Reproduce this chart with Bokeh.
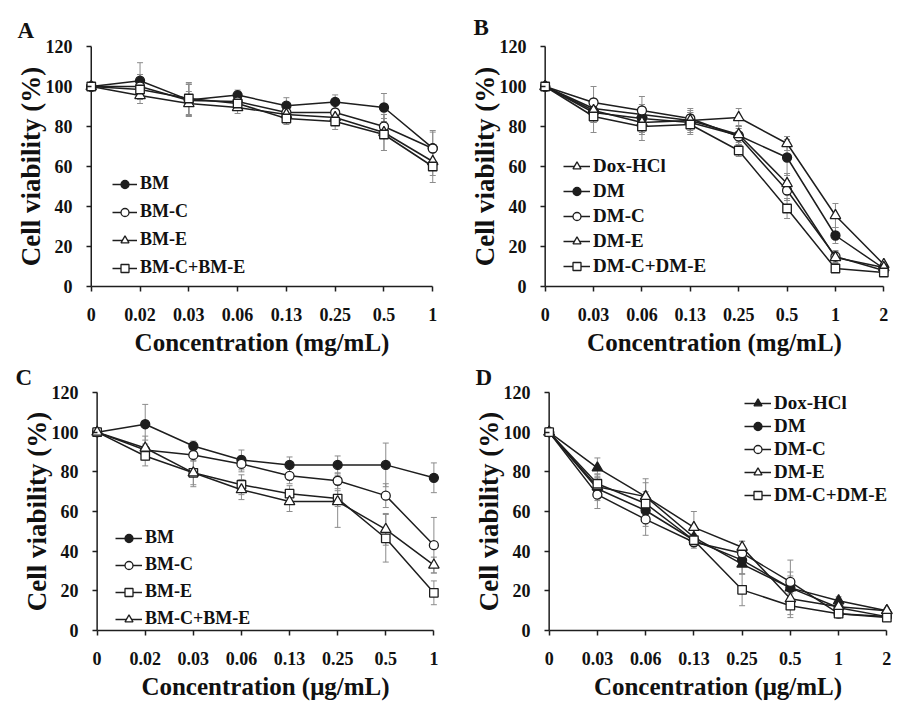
from bokeh.plotting import figure
from bokeh.models import (Range1d, FixedTicker, Legend, LegendItem, Whisker,
                          TeeHead, ColumnDataSource, Span)
from bokeh.layouts import column, row
from bokeh.embed import file_html
from bokeh.resources import INLINE

FONT = "Liberation Serif"
INK = "#1e1e1e"
ERR = "#8c8c8c"

# ---------------- data ----------------
conc_A = ["0", "0.02", "0.03", "0.06", "0.13", "0.25", "0.5", "1"]
A_BM = [100, 102.9, 93.3, 95.7, 90.4, 92.3, 89.5, 69.2]
A_BM_err = [0, 9, 8, 2.5, 4, 3.5, 7, 8]
A_BMC = [100, 100, 93, 92.5, 87, 87, 80, 69]
A_BMC_err = [0, 6, 8, 3, 3, 4, 6, 9]
A_BME = [100, 95.5, 91.5, 89.5, 86, 84.5, 77, 62.5]
A_BME_err = [0, 4, 6, 3, 3, 4, 9, 7]
A_BMCE = [100, 98.5, 94, 91.5, 84, 82.5, 76, 60]
A_BMCE_err = [0, 5, 8, 3, 3, 4, 8, 8]

conc_B = ["0", "0.03", "0.06", "0.13", "0.25", "0.5", "1", "2"]
B_Dox = [100, 89, 86, 83, 84.5, 71.5, 35.5, 11]
B_Dox_err = [0, 4, 5, 5, 4.5, 3.5, 6, 1]
B_DM = [100, 87, 84, 82, 75.5, 64.5, 25.5, 9]
B_DM_err = [0, 5, 7, 5, 5, 9, 4, 1]
B_DMC = [100, 92, 88, 84, 75, 48, 15, 8]
B_DMC_err = [0, 8, 7, 5, 4, 5, 3, 1]
B_DME = [100, 88, 82, 83, 76, 51.5, 14.5, 9.5]
B_DME_err = [0, 6, 6, 4, 4, 5, 3, 1]
B_DMCE = [100, 85, 80, 81, 68, 39, 9, 7]
B_DMCE_err = [0, 8, 7, 5, 3, 5, 2, 1]

conc_C = ["0", "0.02", "0.03", "0.06", "0.13", "0.25", "0.5", "1"]
C_BM = [100, 104, 93, 86, 83.5, 83.5, 83.5, 77]
C_BM_err = [0, 10, 2.5, 5, 4, 4.5, 11, 7.5]
C_BMC = [100, 91, 88.5, 84, 78, 75.5, 68, 43]
C_BMC_err = [0, 5, 3, 4, 4, 4, 6, 14]
C_BME = [100, 88, 79.5, 73.5, 69, 66.5, 46.5, 19]
C_BME_err = [0, 5, 6, 5, 4, 4, 12, 6]
C_BMCE = [100, 92, 79.5, 71, 65, 65, 51, 33]
C_BMCE_err = [0, 6, 7, 5, 5, 13, 8, 4]

conc_D = ["0", "0.03", "0.06", "0.13", "0.25", "0.5", "1", "2"]
D_Dox = [100, 82, 67.5, 47, 33.5, 21.5, 15, 10]
D_Dox_err = [0, 5, 7, 4, 5, 6, 2, 1]
D_DM = [100, 71.5, 60.5, 45.5, 35.5, 21.5, 11.5, 7]
D_DM_err = [0, 6, 8, 3, 7, 8, 2, 1]
D_DMC = [100, 68.5, 56, 44.5, 39, 24.5, 8.5, 7]
D_DMC_err = [0, 7, 8, 3, 6, 11, 2, 1]
D_DME = [100, 72.5, 67.5, 52, 42, 16, 12, 10]
D_DME_err = [0, 6, 9, 8, 3, 8, 2, 1]
D_DMCE = [100, 74, 64, 45.5, 20.5, 12.5, 8.5, 6.5]
D_DMCE_err = [0, 5, 6, 3, 8, 6, 2, 1]

y_ticks = [0, 20, 40, 60, 80, 100, 120]

MSIZE = {"circle": 9, "triangle": 10.5, "square": 8.5}
PAD = 0.2


def panel(cats, series, letter, xlabel, width, bl, br, bt, fh, bb,
          title_offset, title_standoff, legend_xy, legend_spacing,
          legend_font, glyph_w):
    n = len(cats)
    p = figure(width=width, height=bt + fh + bb, output_backend="svg",
               toolbar_location=None, title=letter,
               x_range=Range1d(-PAD, n - 1 + PAD), y_range=Range1d(0, 120),
               min_border_left=bl, min_border_right=br,
               min_border_top=bt, min_border_bottom=bb)
    p.outline_line_color = None
    p.grid.visible = False
    p.background_fill_color = "white"
    p.border_fill_color = "white"

    p.title.align = "left"
    p.title.offset = title_offset
    p.title.standoff = title_standoff
    p.title.text_font = FONT
    p.title.text_font_size = "23px"
    p.title.text_font_style = "bold"
    p.title.text_color = "#111111"

    xs = list(range(n))
    p.xaxis.ticker = FixedTicker(ticks=xs)
    p.xaxis.major_label_overrides = {i: c for i, c in enumerate(cats)}
    p.xaxis.bounds = (0, n - 1)
    p.yaxis.ticker = FixedTicker(ticks=y_ticks)
    for ax in (p.xaxis[0], p.yaxis[0]):
        ax.axis_line_color = INK
        ax.axis_line_width = 1.5
        ax.major_tick_line_color = INK
        ax.major_tick_line_width = 1.5
        ax.major_tick_out = 5
        ax.major_tick_in = 0
        ax.minor_tick_line_color = None
        ax.minor_tick_out = 0
        ax.minor_tick_in = 0
        ax.major_label_text_font = FONT
        ax.major_label_text_font_style = "bold"
        ax.major_label_text_font_size = "18px"
        ax.major_label_text_color = "#111111"
        ax.axis_label_text_font = FONT
        ax.axis_label_text_font_style = "bold"
        ax.axis_label_text_color = "#111111"
    p.xaxis.axis_label = xlabel
    p.xaxis.axis_label_text_font_size = "25px"
    p.xaxis.major_label_standoff = 16
    p.xaxis.axis_label_standoff = 5
    # y axis: the line is drawn at x = 0 (a Span), ticks reach out from it
    p.yaxis.axis_line_color = None
    p.yaxis.major_tick_in = 10
    p.yaxis.major_tick_out = -5
    p.yaxis.axis_label = "Cell viability (%)"
    p.yaxis.axis_label_text_font_size = "27px"
    p.yaxis.major_label_standoff = 9
    p.yaxis.axis_label_standoff = -3
    p.add_layout(Span(location=0, dimension="height", line_color=INK,
                      line_width=1.5, level="underlay"))

    sources = []
    for name, vals, errs, marker, fill in series:
        src = ColumnDataSource(dict(
            x=xs, y=vals,
            lo=[v - e for v, e in zip(vals, errs)],
            hi=[v + e for v, e in zip(vals, errs)]))
        sources.append(src)
        w = Whisker(source=src, base="x", upper="hi", lower="lo",
                    line_color=ERR, line_width=1, level="underlay",
                    upper_head=TeeHead(size=6, line_color=ERR, line_width=1),
                    lower_head=TeeHead(size=6, line_color=ERR, line_width=1))
        p.add_layout(w)

    items = []
    for (name, vals, errs, marker, fill), src in zip(series, sources):
        lr = p.line("x", "y", source=src, line_color=INK, line_width=1.5)
        sr = p.scatter("x", "y", source=src, marker=marker,
                       size=MSIZE[marker], fill_color=fill,
                       line_color=INK, line_width=1.3)
        items.append(LegendItem(label=name, renderers=[lr, sr]))

    leg = Legend(items=items, location=legend_xy, orientation="vertical",
                 background_fill_alpha=0, border_line_color=None,
                 padding=0, margin=0, spacing=legend_spacing,
                 glyph_width=glyph_w, glyph_height=20, label_height=20,
                 label_standoff=3, label_text_font=FONT,
                 label_text_font_style="bold",
                 label_text_font_size=legend_font,
                 label_text_color="#111111")
    p.add_layout(leg)
    return p


pA = panel(conc_A,
           [("BM", A_BM, A_BM_err, "circle", INK),
            ("BM-C", A_BMC, A_BMC_err, "circle", "white"),
            ("BM-E", A_BME, A_BME_err, "triangle", "white"),
            ("BM-C+BM-E", A_BMCE, A_BMCE_err, "square", "white")],
           "A", "Concentration (mg/mL)", 448, 81, 6, 42, 244, 74,
           -64, 7, (31, 8), 7, "18px", 25)

pB = panel(conc_B,
           [("Dox-HCl", B_Dox, B_Dox_err, "triangle", "white"),
            ("DM", B_DM, B_DM_err, "circle", INK),
            ("DM-C", B_DMC, B_DMC_err, "circle", "white"),
            ("DM-E", B_DME, B_DME_err, "triangle", "white"),
            ("DM-C+DM-E", B_DMCE, B_DMCE_err, "square", "white")],
           "B", "Concentration (mg/mL)", 448, 87, 3, 46, 240, 74,
           -62, 13, (28, 9), 3, "19px", 27)

pC = panel(conc_C,
           [("BM", C_BM, C_BM_err, "circle", INK),
            ("BM-C", C_BMC, C_BMC_err, "circle", "white"),
            ("BM-E", C_BME, C_BME_err, "square", "white"),
            ("BM-C+BM-E", C_BMCE, C_BMCE_err, "triangle", "white")],
           "C", "Concentration (\u03bcg/mL)", 448, 87, 5, 28, 242, 74,
           -72, 5, (28, 1), 6, "18px", 27)

pD = panel(conc_D,
           [("Dox-HCl", D_Dox, D_Dox_err, "triangle", INK),
            ("DM", D_DM, D_DM_err, "circle", INK),
            ("DM-C", D_DMC, D_DMC_err, "circle", "white"),
            ("DM-E", D_DME, D_DME_err, "triangle", "white"),
            ("DM-C+DM-E", D_DMCE, D_DMCE_err, "square", "white")],
           "D", "Concentration (\u03bcg/mL)", 448, 91, 0, 28, 242, 74,
           -64, 5, (205, 124), 1, "19px", 27)

layout = column(row(pA, pB), row(pC, pD))
open("out.html", "w").write(file_html(layout, INLINE))
